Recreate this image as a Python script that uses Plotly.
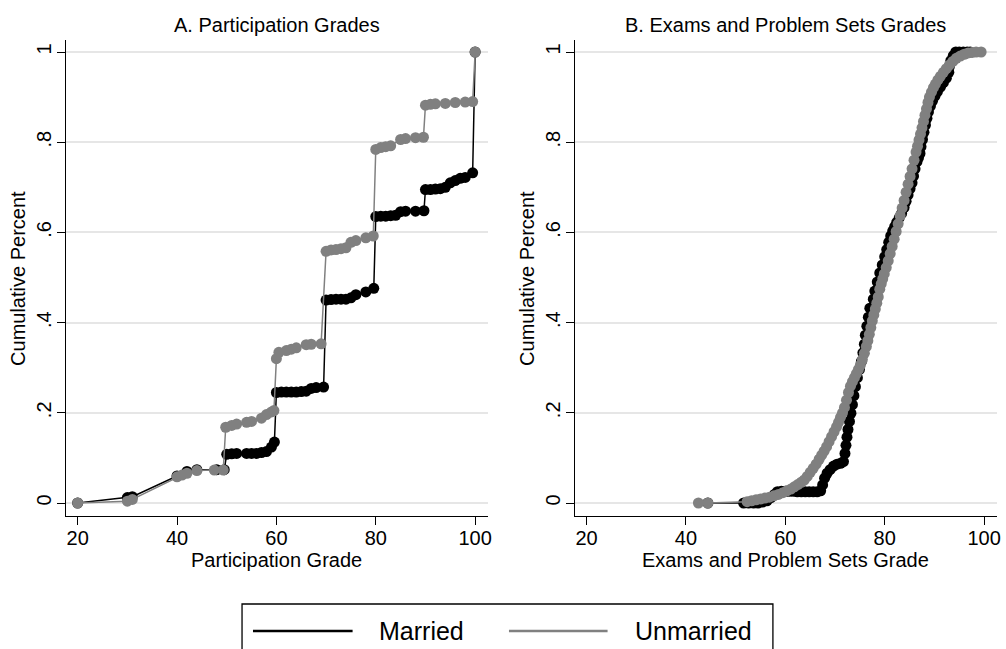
import plotly.graph_objects as go

# ---- Panel A: participation grades (cumulative share by grade) ----
part_married_x = [20, 30, 31, 40, 42, 44, 48, 49.5, 50, 51, 52, 54, 55, 56, 57, 58, 59, 59.6,
                  60, 61, 62, 63, 64, 65, 66, 67, 68, 69.5,
                  70, 71, 72, 73, 74, 75, 76, 78, 79.6,
                  80, 81, 82, 83, 84, 85, 86, 88, 89.7,
                  90, 91, 92, 93, 94, 95, 96, 97, 98, 99.5, 100]
part_married_y = [0.000, 0.012, 0.014, 0.060, 0.070, 0.074, 0.074, 0.074, 0.108, 0.109, 0.110, 0.110, 0.110, 0.110, 0.112, 0.114, 0.124, 0.135,
                  0.245, 0.246, 0.246, 0.246, 0.246, 0.247, 0.248, 0.254, 0.256, 0.257,
                  0.450, 0.451, 0.452, 0.452, 0.452, 0.455, 0.462, 0.468, 0.476,
                  0.635, 0.636, 0.636, 0.637, 0.638, 0.646, 0.647, 0.647, 0.648,
                  0.695, 0.695, 0.696, 0.697, 0.700, 0.710, 0.715, 0.720, 0.722, 0.732, 1.000]

part_unmarried_x = [20, 30, 31, 40, 41, 42, 44, 47.5, 49.3, 49.8, 51, 52, 54, 55, 57, 58, 59, 59.5,
                    60, 60.5, 62, 63, 64, 66, 67, 69,
                    70, 71, 72, 73, 74, 75, 76, 78, 79.5,
                    80, 81, 82, 83, 85, 86, 88, 89.6,
                    90, 91, 92, 94, 96, 98, 99.5, 100]
part_unmarried_y = [0.000, 0.004, 0.008, 0.058, 0.062, 0.066, 0.072, 0.073, 0.073, 0.168, 0.172, 0.175, 0.179, 0.181, 0.188, 0.196, 0.202, 0.205,
                    0.320, 0.334, 0.338, 0.341, 0.344, 0.351, 0.352, 0.353,
                    0.558, 0.561, 0.562, 0.564, 0.566, 0.578, 0.582, 0.588, 0.592,
                    0.784, 0.788, 0.790, 0.792, 0.806, 0.808, 0.810, 0.811,
                    0.882, 0.884, 0.885, 0.886, 0.888, 0.889, 0.890, 1.000]

# ---- Panel B: exams and problem sets grades ----
exam_married_x = [44.4, 51.6, 52.6, 53.6, 54.5, 55.4, 56.3, 57.1, 57.8, 58.4, 59.2, 60.0, 60.8, 61.6,
                  62.4, 63.2, 64.0, 64.8, 65.6, 66.4, 67.1, 67.5, 67.9, 68.4, 69.0, 69.7, 70.4,
                  71.1, 71.7, 72.0, 72.2, 72.4, 72.6, 72.9, 73.2, 73.5, 73.8, 74.1, 74.5, 74.9,
                  75.3, 75.6, 75.9, 76.1, 76.4, 76.7, 77.0, 77.7, 78.0, 78.5, 79.0, 79.5, 80.0,
                  80.4, 80.8, 81.2, 81.6, 82.0, 82.4, 82.9, 83.4, 83.9, 84.3, 84.7, 85.1, 85.5,
                  85.8, 86.1, 86.5, 86.8, 87.1, 87.3, 87.6, 87.9, 88.2, 88.5, 88.8, 89.2, 89.6,
                  90.1, 90.6, 91.2, 91.8, 92.4, 92.9, 93.0, 93.3, 93.8, 94.3, 95.0, 95.8, 96.6,
                  97.2]
exam_married_y = [0.000, 0.000, 0.000, 0.000, 0.000, 0.002, 0.005, 0.012, 0.019, 0.025, 0.026, 0.026, 0.026, 0.026,
                  0.025, 0.025, 0.025, 0.025, 0.025, 0.025, 0.027, 0.040, 0.055, 0.066, 0.074, 0.082, 0.086,
                  0.088, 0.092, 0.110, 0.128, 0.146, 0.163, 0.181, 0.199, 0.218, 0.238, 0.258, 0.278, 0.296,
                  0.314, 0.333, 0.352, 0.372, 0.392, 0.412, 0.432, 0.452, 0.470, 0.490, 0.510, 0.528, 0.546,
                  0.562, 0.578, 0.592, 0.603, 0.613, 0.622, 0.632, 0.642, 0.655, 0.669, 0.683, 0.697, 0.710,
                  0.725, 0.741, 0.757, 0.766, 0.775, 0.790, 0.806, 0.822, 0.838, 0.853, 0.867, 0.880, 0.891,
                  0.902, 0.912, 0.922, 0.932, 0.942, 0.955, 0.968, 0.981, 0.992, 1.000, 1.000, 1.000, 1.000,
                  1.000]

exam_unmarried_x = [42.5, 44.4, 52.3, 53.2, 54.1, 55.0, 55.9, 56.8, 57.7, 58.6, 59.5, 60.3, 61.1, 61.8,
                    62.5, 63.2, 63.8, 64.4, 65.0, 65.6, 66.2, 66.8, 67.3, 67.8, 68.3, 68.8, 69.3, 69.8,
                    70.3, 70.7, 71.1, 71.5, 71.9, 72.3, 72.7, 73.1, 73.5, 73.9, 74.3, 74.7, 75.1, 75.5,
                    75.9, 76.3, 76.6, 76.9, 77.2, 77.5, 77.8, 78.1, 78.4, 78.7, 79.0, 79.3, 79.6, 79.9,
                    80.3, 80.7, 81.1, 81.5, 81.9, 82.3, 82.7, 83.1, 83.5, 83.9, 84.3, 84.7, 85.1, 85.5,
                    85.9, 86.3, 86.6, 86.9, 87.2, 87.5, 87.8, 88.1, 88.4, 88.7, 89.0, 89.4, 89.8, 90.2,
                    90.7, 91.2, 91.8, 92.4, 93.0, 93.7, 94.4, 95.2, 96.0, 96.8, 97.6, 98.4, 99.4]
exam_unmarried_y = [0.000, 0.000, 0.003, 0.005, 0.007, 0.009, 0.011, 0.013, 0.016, 0.019, 0.023, 0.027, 0.031, 0.036,
                    0.041, 0.046, 0.051, 0.059, 0.068, 0.077, 0.086, 0.097, 0.106, 0.115, 0.125, 0.136, 0.147, 0.158,
                    0.169, 0.179, 0.190, 0.200, 0.212, 0.228, 0.245, 0.259, 0.269, 0.278, 0.287, 0.296, 0.306, 0.318,
                    0.332, 0.347, 0.360, 0.374, 0.389, 0.404, 0.417, 0.430, 0.443, 0.457, 0.474, 0.486, 0.497, 0.508,
                    0.522, 0.537, 0.553, 0.569, 0.585, 0.602, 0.619, 0.637, 0.654, 0.671, 0.689, 0.707, 0.724, 0.741,
                    0.760, 0.778, 0.791, 0.805, 0.818, 0.832, 0.846, 0.860, 0.874, 0.888, 0.900, 0.911, 0.921, 0.929,
                    0.938, 0.946, 0.955, 0.963, 0.971, 0.979, 0.986, 0.991, 0.995, 0.998, 0.999, 1.000, 1.000]

x_ticks = [20, 40, 60, 80, 100]
y_ticks = [0, 0.2, 0.4, 0.6, 0.8, 1]
y_tick_text = ["0", ".2", ".4", ".6", ".8", "1"]
series_names = ["Married", "Unmarried"]
panel_titles = ["A. Participation Grades", "B. Exams and Problem Sets Grades"]
x_titles = ["Participation Grade", "Exams and Problem Sets Grade"]
y_title = "Cumulative Percent"

W, H = 1006, 649
FONT = "Liberation Sans, Arial, Helvetica, sans-serif"
BLACK = "#000000"
GRAY = "#808080"


def fx(px):
    return px / W


def fy(py):
    return 1 - py / H


fig = go.Figure()

panels = [
    ("x", "y", part_married_x, part_married_y, part_unmarried_x, part_unmarried_y),
    ("x2", "y2", exam_married_x, exam_married_y, exam_unmarried_x, exam_unmarried_y),
]
for xa, ya, mx, my, ux, uy in panels:
    fig.add_trace(go.Scatter(x=mx, y=my, xaxis=xa, yaxis=ya, mode="lines+markers",
                             name=series_names[0], showlegend=False,
                             line=dict(color=BLACK, width=1.5),
                             marker=dict(color=BLACK, size=11, line=dict(width=0))))
    fig.add_trace(go.Scatter(x=ux, y=uy, xaxis=xa, yaxis=ya, mode="lines+markers",
                             name=series_names[1], showlegend=False,
                             line=dict(color=GRAY, width=1.5),
                             marker=dict(color=GRAY, size=11, line=dict(width=0))))

x_range = [17.6, 102.6]
y_range = [-0.0288, 1.0266]
y_dom = [fy(516), fy(40)]

xcommon = dict(range=x_range, tickvals=x_ticks, ticks="outside", ticklen=8, tickwidth=1.3,
               tickcolor=BLACK, showline=True, linecolor=BLACK, linewidth=1.3,
               showgrid=False, zeroline=False, ticklabelstandoff=-4,
               tickfont=dict(family=FONT, size=20, color=BLACK))
ycommon = dict(range=y_range, tickvals=y_ticks, ticktext=y_tick_text, tickangle=-90,
               ticks="outside", ticklen=8, tickwidth=1.3, tickcolor=BLACK,
               showline=True, linecolor=BLACK, linewidth=1.3, ticklabelstandoff=-2,
               showgrid=True, gridcolor="#e6e6e6", gridwidth=1.5, zeroline=False,
               tickfont=dict(family=FONT, size=20, color=BLACK), domain=y_dom)

fig.update_layout(
    width=W, height=H, margin=dict(l=0, r=0, t=0, b=0),
    paper_bgcolor="white", plot_bgcolor="white",
    font=dict(family=FONT, color=BLACK),
    xaxis=dict(xcommon, domain=[fx(66), fx(490)], anchor="y"),
    yaxis=dict(ycommon, anchor="x"),
    xaxis2=dict(xcommon, domain=[fx(577), fx(1001)], anchor="y2"),
    yaxis2=dict(ycommon, anchor="x2"),
)

annotations = []
for title, xt, cx, ylx in [(panel_titles[0], x_titles[0], 278, 18),
                           (panel_titles[1], x_titles[1], 789, 529)]:
    annotations.append(dict(text=title, x=fx(cx), y=fy(25), xref="paper", yref="paper",
                            xanchor="center", yanchor="middle", showarrow=False,
                            font=dict(family=FONT, size=20, color=BLACK)))
    annotations.append(dict(text=xt, x=fx(cx), y=fy(560), xref="paper", yref="paper",
                            xanchor="center", yanchor="middle", showarrow=False,
                            font=dict(family=FONT, size=20, color=BLACK)))
    annotations.append(dict(text=y_title, x=fx(ylx), y=fy(278), xref="paper", yref="paper",
                            xanchor="center", yanchor="middle", showarrow=False, textangle=-90,
                            font=dict(family=FONT, size=20, color=BLACK)))

# legend box drawn at the bottom of the figure
shapes = [
    dict(type="rect", xref="paper", yref="paper", x0=fx(243), x1=fx(776), y0=fy(660), y1=fy(604),
         line=dict(color=BLACK, width=1.3), fillcolor="white", layer="below"),
    dict(type="line", xref="paper", yref="paper", x0=fx(254), x1=fx(354), y0=fy(631), y1=fy(631),
         line=dict(color=BLACK, width=2.5)),
    dict(type="line", xref="paper", yref="paper", x0=fx(511), x1=fx(610), y0=fy(631), y1=fy(631),
         line=dict(color=GRAY, width=2.5)),
]
annotations.append(dict(text=series_names[0], x=fx(379), y=fy(631), xref="paper", yref="paper",
                        xanchor="left", yanchor="middle", showarrow=False,
                        font=dict(family=FONT, size=25, color=BLACK)))
annotations.append(dict(text=series_names[1], x=fx(636), y=fy(631), xref="paper", yref="paper",
                        xanchor="left", yanchor="middle", showarrow=False,
                        font=dict(family=FONT, size=25, color=BLACK)))

fig.update_layout(annotations=annotations, shapes=shapes)

fig.write_html("out.html")
